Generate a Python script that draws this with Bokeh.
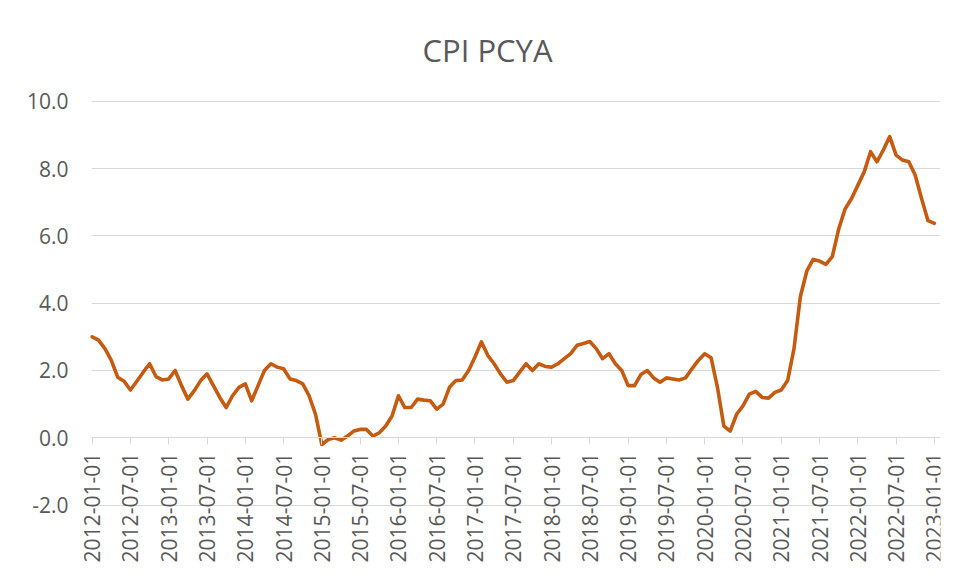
import math
import pandas as pd
from bokeh.plotting import figure
from bokeh.models import FixedTicker, NumeralTickFormatter, Range1d
from bokeh.embed import file_html
from bokeh.resources import INLINE

# Monthly dates (x categories)
dates = pd.date_range("2012-01-01", "2023-01-01", freq="MS").strftime("%Y-%m-%d").tolist()

# CPI percent change from a year ago
cpi_2012 = [3.0, 2.9, 2.65, 2.3, 1.8, 1.68, 1.42, 1.68, 1.95, 2.2, 1.82, 1.72]
cpi_2013 = [1.75, 2.0, 1.55, 1.15, 1.4, 1.7, 1.9, 1.55, 1.2, 0.9, 1.25, 1.5]
cpi_2014 = [1.6, 1.1, 1.55, 2.0, 2.2, 2.1, 2.05, 1.75, 1.7, 1.6, 1.25, 0.7]
cpi_2015 = [-0.2, -0.05, 0.0, -0.07, 0.05, 0.2, 0.25, 0.25, 0.05, 0.15, 0.35, 0.65]
cpi_2016 = [1.25, 0.9, 0.9, 1.15, 1.12, 1.1, 0.85, 1.0, 1.5, 1.7, 1.72, 2.0]
cpi_2017 = [2.4, 2.85, 2.45, 2.2, 1.9, 1.65, 1.7, 1.95, 2.2, 2.0, 2.2, 2.12]
cpi_2018 = [2.1, 2.2, 2.35, 2.5, 2.75, 2.8, 2.86, 2.65, 2.35, 2.5, 2.2, 2.0]
cpi_2019 = [1.55, 1.55, 1.88, 2.0, 1.78, 1.65, 1.78, 1.75, 1.72, 1.78, 2.05, 2.3]
cpi_2020 = [2.5, 2.38, 1.5, 0.35, 0.2, 0.7, 0.95, 1.3, 1.38, 1.2, 1.18, 1.35]
cpi_2021 = [1.42, 1.7, 2.65, 4.2, 4.95, 5.3, 5.25, 5.15, 5.38, 6.2, 6.8, 7.1]
cpi_2022 = [7.5, 7.9, 8.5, 8.2, 8.55, 8.95, 8.4, 8.25, 8.2, 7.8, 7.1, 6.45]
cpi_2023 = [6.37]

values = (cpi_2012 + cpi_2013 + cpi_2014 + cpi_2015 + cpi_2016 + cpi_2017 +
          cpi_2018 + cpi_2019 + cpi_2020 + cpi_2021 + cpi_2022 + cpi_2023)
x = list(range(len(dates)))

x_ticks = x[::6]
x_tick_labels = {i: dates[i] for i in x_ticks}
y_ticks = [-2, 0, 2, 4, 6, 8, 10]

TEXT = "#595959"
GRID = "#d9d9d9"
FONT = "Open Sans"
PLOT_X = (-0.16, 132.96)   # extent of the plotting area (gridlines / axis line)

p = figure(width=950, height=568, output_backend="svg", toolbar_location=None,
           x_range=Range1d(-1.36, 132.96), y_range=Range1d(-3.823, 10.021),
           min_border_left=83, min_border_right=10, min_border_top=100,
           min_border_bottom=2, title="CPI PCYA")

p.line(x, values, line_color="#C55A11", line_width=3.6, line_join="round", line_cap="round")

p.title.text_font = FONT
p.title.text_font_size = "31px"
p.title.text_font_style = "normal"
p.title.text_color = TEXT
p.title.align = "left"
p.title.offset = 339
p.title.vertical_align = "top"
if "standoff" in p.title.properties():
    p.title.standoff = 55

p.outline_line_color = None
p.background_fill_color = "white"
p.border_fill_color = "white"

# x axis pinned at y = 0
xa = p.xaxis[0]
xa.fixed_location = 0
xa.bounds = PLOT_X
xa.ticker = FixedTicker(ticks=x_ticks)
xa.major_label_overrides = x_tick_labels
xa.major_label_orientation = math.pi / 2
xa.major_label_text_font = FONT
xa.major_label_text_font_size = "21px"
xa.major_label_text_color = TEXT
xa.axis_line_color = GRID
xa.major_tick_line_color = GRID
xa.major_tick_in = 0
xa.major_tick_out = 7
xa.minor_tick_line_color = None
xa.major_label_standoff = 8

ya = p.yaxis[0]
ya.ticker = FixedTicker(ticks=y_ticks)
ya.formatter = NumeralTickFormatter(format="0.0")
ya.axis_line_color = None
ya.major_tick_line_color = None
ya.minor_tick_line_color = None
ya.major_label_text_font = FONT
ya.major_label_text_font_size = "21px"
ya.major_label_text_color = TEXT
ya.major_label_standoff = 9

p.xgrid.grid_line_color = None
yg = p.ygrid[0]
yg.ticker = FixedTicker(ticks=y_ticks)
yg.grid_line_color = GRID
yg.grid_line_width = 1
if "cross_bounds" in yg.properties():
    yg.cross_bounds = PLOT_X

open("out.html", "w").write(file_html(p, INLINE))
